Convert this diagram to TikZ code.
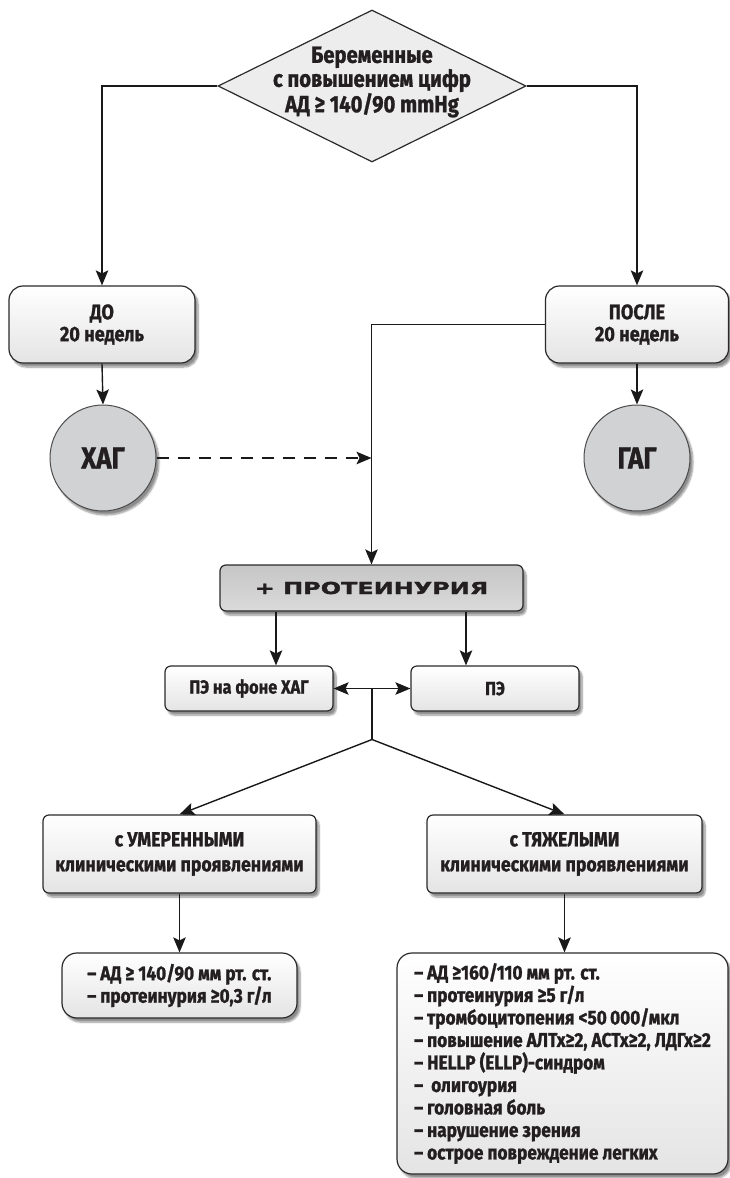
\documentclass[tikz,border=0pt]{standalone}
\usepackage{fontspec}
\newfontfamily\cf{Fira Sans}[FakeStretch=0.86, BoldFeatures={FakeBold=1.2}]
\newfontfamily\wf{DejaVu Sans}[FakeStretch=1.45, BoldFeatures={FakeBold=1.8}]
\usetikzlibrary{shapes.geometric,arrows.meta,shadows.blur,calc}

\definecolor{txt}{HTML}{231F20}
\definecolor{edge}{HTML}{2A2A2A}
\definecolor{dfill}{HTML}{EDEDED}
\definecolor{cfill}{HTML}{D1D2D4}
\definecolor{pfillA}{HTML}{C6C6C6}
\definecolor{pfillB}{HTML}{DADADA}
\definecolor{bfill}{HTML}{E4E4E4}

\begin{document}
\begin{tikzpicture}[x=1pt,y=-1pt,
  conn/.style={draw=black!90, line width=1.4pt},
  arr/.style={conn, -{Stealth[length=15pt,width=12.5pt,inset=3pt]}},
  dashedarr/.style={arr, dash pattern=on 12pt off 9pt},
  shade/.style={blur shadow={shadow xshift=3pt, shadow yshift=-4pt,
      shadow blur steps=8, shadow opacity=45}},
  box/.style={draw=edge, line width=1.2pt, top color=white, bottom color=bfill,
      shade, align=center, text=txt, inner sep=0pt},
  bigbox/.style={box, rounded corners=14pt,
      font=\cf\bfseries\fontsize{21}{22}\selectfont},
  smallbox/.style={box, rounded corners=6pt,
      font=\cf\bfseries\fontsize{20.5}{25}\selectfont},
  pebox/.style={box, rounded corners=6pt,
      font=\cf\bfseries\fontsize{19}{22}\selectfont},
  listbox/.style={box, rounded corners=15pt, align=left,
      font=\cf\bfseries\fontsize{20}{22.5}\selectfont},
  circ/.style={circle, draw=black!70, line width=1pt, fill=cfill,
      minimum size=106pt, inner sep=0pt, text=txt, shade,
      font=\cf\bfseries\fontsize{30}{30}\selectfont},
  diamondbox/.style={diamond, draw=edge, line width=1.2pt, fill=dfill,
      minimum width=308pt, minimum height=152pt, inner sep=0pt},
  dtext/.style={align=center, text=txt, inner sep=0pt,
      font=\cf\bfseries\fontsize{23.5}{24}\selectfont}
]
\useasboundingbox (0,0) rectangle (729,1178);

% top decision
\node[diamondbox] (dia) at (372,86) {};
\node[dtext] (diat) at (372,82) {Беременные\\с повышением цифр\\АД ≥ 140/90 mmHg};

% gestation term
\node[bigbox, minimum width=186pt, minimum height=77pt] (do) at (102,324.5) {ДО\\20 недель};
\node[bigbox, minimum width=183pt, minimum height=77pt] (posle) at (637,324.5) {ПОСЛЕ\\20 недель};

% hypertension types
\node[circ] (xag) at (103,458) {ХАГ};
\node[circ] (gag) at (637,458) {ГАГ};

% proteinuria
\node[box, rounded corners=6pt, top color=pfillA, bottom color=pfillB,
      minimum width=303pt, minimum height=46pt,
      font=\wf\bfseries\fontsize{16.5}{16.5}\selectfont] (prot) at (371.5,588) {+ ПРОТЕИНУРИЯ};

\node[pebox, minimum width=168pt, minimum height=45pt] (pe1) at (249,688.5) {ПЭ на фоне ХАГ};
\node[pebox, minimum width=168pt, minimum height=45pt] (pe2) at (495,688.5) {ПЭ};

% severity
\node[smallbox, minimum width=273pt, minimum height=78pt] (mod) at (179.5,854)
  {с УМЕРЕННЫМИ\\клиническими проявлениями};
\node[smallbox, minimum width=275pt, minimum height=78pt] (sev) at (564.5,854)
  {с ТЯЖЕЛЫМИ\\клиническими проявлениями};

% criteria
\node[listbox, minimum width=235pt, minimum height=65pt] (modres) at (179.5,985.5)
  {– АД ≥ 140/90 мм рт. ст.\\– протеинурия ≥0,3 г/л};
\node[listbox, minimum width=331pt, minimum height=221pt] (sevres) at (562.5,1063.5)
  {– АД ≥160/110 мм рт. ст.\\
   – протеинурия ≥5 г/л\\
   – тромбоцитопения <50\,000/мкл\\
   – повышение АЛТх≥2, АСТх≥2, ЛДГх≥2\\
   – HELLP (ELLP)-синдром\\
   – \ олигоурия\\
   – головная боль\\
   – нарушение зрения\\
   – острое повреждение легких};

% connectors
\draw[arr] (dia.west) -| (do.north);
\draw[arr] (dia.east) -| (posle.north);
\draw[arr] (do.south) -- (xag.north);
\draw[arr] (posle.south) -- (gag.north);
\draw[arr] (posle.west) -| (prot.north);
\coordinate (jx) at (xag.east -| prot.north);
\draw[dashedarr] (xag.east) -- (jx);

\coordinate (pa) at ([xshift=27pt]pe1.north);
\coordinate (pb) at ([xshift=-29pt]pe2.north);
\draw[arr] (pa |- prot.south) -- (pa);
\draw[arr] (pb |- prot.south) -- (pb);

\coordinate (jn) at ($(pe1.east)!0.5!(pe2.west)$);
\coordinate (sp) at ($(jn)+(0,51)$);
\draw[conn] (jn) -- (sp);
\draw[arr] (jn) -- (pe1.east);
\draw[arr] (jn) -- (pe2.west);
\draw[arr] (sp) -- (mod.north);
\draw[arr] (sp) -- (sev.north);
\draw[arr] (mod.south) -- (modres.north);
\draw[arr] (sev.south) -- (sev.south |- sevres.north);
\end{tikzpicture}
\end{document}
